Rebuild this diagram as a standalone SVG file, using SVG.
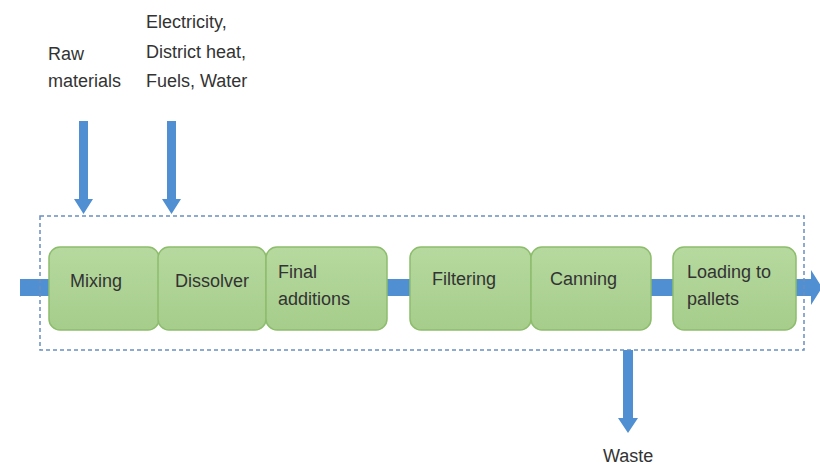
<svg xmlns="http://www.w3.org/2000/svg" width="820" height="466" viewBox="0 0 820 466">
<defs>
<linearGradient id="g" x1="0" y1="0" x2="0" y2="1">
<stop offset="0" stop-color="#b6d99f"/>
<stop offset="1" stop-color="#a6cd8b"/>
</linearGradient>
<style>
.node{fill:url(#g);stroke:#8dbd6c;stroke-width:1.5}
.t{font-family:"Liberation Sans",Arial,sans-serif;font-size:18px;fill:#333333}
.bar{fill:#4f8fd2}
.frame{fill:none;stroke:#6a8fc0;stroke-width:1.5;stroke-dasharray:4 3}
</style>
</defs>
<rect width="820" height="466" fill="#ffffff"/>
<g id="connectors">
<rect class="bar" x="20" y="279" width="30" height="17"/>
<rect class="bar" x="386" y="279" width="25" height="17"/>
<rect class="bar" x="650" y="279" width="24" height="17"/>
<polygon class="bar" points="795,279 811,279 811,270 822,287.5 811,305 811,296 795,296"/>
<polygon class="bar" points="79,121 88,121 88,199 93,199 83.5,214 74,199 79,199"/>
<polygon class="bar" points="167,121 176,121 176,199 181,199 171.5,214 162,199 167,199"/>
<polygon class="bar" points="623,350 633,350 633,418 638,418 628,433 618,418 623,418"/>
</g>
<rect id="boundary" class="frame" x="40" y="216" width="764" height="134"/>
<g id="mixing"><rect class="node" x="49" y="247" width="110" height="83" rx="11"/><text class="t" x="70" y="287">Mixing</text></g>
<g id="dissolver"><rect class="node" x="158" y="247" width="108" height="83" rx="11"/><text class="t" x="175" y="287">Dissolver</text></g>
<g id="final-additions"><rect class="node" x="266" y="247" width="121" height="83" rx="11"/><text class="t" x="278" y="278">Final</text><text class="t" x="278" y="305">additions</text></g>
<g id="filtering"><rect class="node" x="410" y="247" width="121" height="83" rx="11"/><text class="t" x="432" y="285">Filtering</text></g>
<g id="canning"><rect class="node" x="531" y="247" width="120" height="83" rx="11"/><text class="t" x="550" y="285">Canning</text></g>
<g id="loading"><rect class="node" x="673" y="247" width="123" height="83" rx="11"/><text class="t" x="687" y="278">Loading to</text><text class="t" x="687" y="305">pallets</text></g>
<g id="raw-materials"><text class="t" x="48" y="60">Raw</text><text class="t" x="48" y="87">materials</text></g>
<g id="energy"><text class="t" x="146" y="28">Electricity,</text><text class="t" x="146" y="58">District heat,</text><text class="t" x="146" y="87">Fuels, Water</text></g>
<g id="waste"><text class="t" x="603" y="462">Waste</text></g>
</svg>
